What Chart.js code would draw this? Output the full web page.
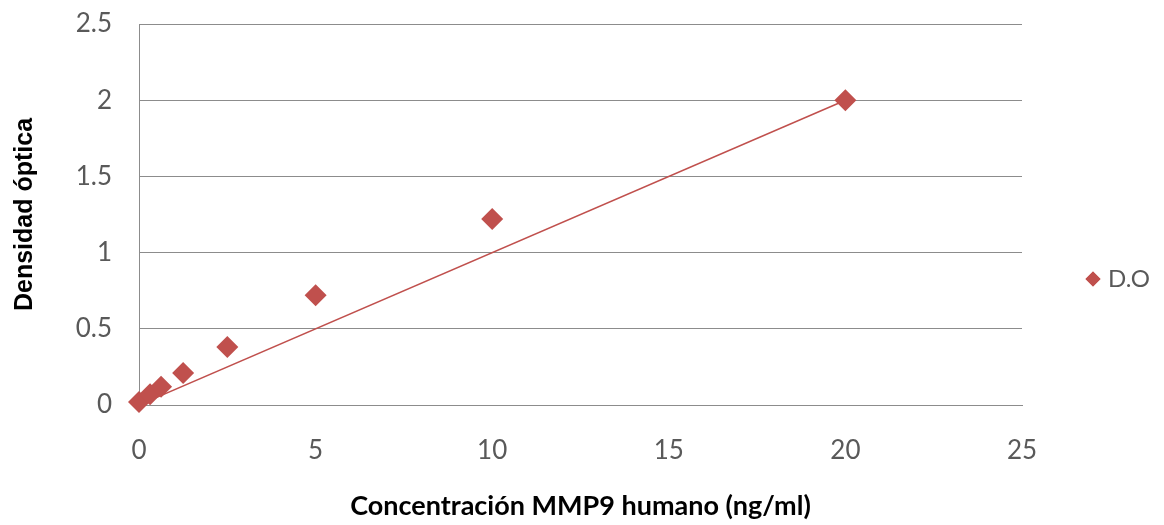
<!DOCTYPE html>
<html>
<head>
<meta charset="utf-8">
<script src="https://cdn.jsdelivr.net/npm/chart.js@4.4.1/dist/chart.umd.min.js"></script>
<style>
	html, body { margin: 0; padding: 0; background: #fff; }
	#wrap { width: 1164px; height: 525px; }
</style>
</head>
<body>
<div id="wrap"><canvas id="curva"></canvas></div>
<script>
// concentraciones estándar (ng/ml) y densidad óptica medida
const concentraciones = [0, 0.3125, 0.625, 1.25, 2.5, 5, 10, 20];
const densidad = [0.02, 0.07, 0.12, 0.21, 0.38, 0.72, 1.22, 2.0];

// línea de tendencia (extremos)
const tendenciaX = [0, 20];
const tendenciaY = [0.0, 2.0];

const serieNombre = 'D.O';
const rojo = '#C0504D';
const gris = '#8C8C8C';
const textoGris = '#595959';
const fuente = 'Lato, "Open Sans", sans-serif';

// leyenda propia a la derecha del área del gráfico
const leyenda = {
	id: 'leyenda',
	afterDraw(chart) {
		const ctx = chart.ctx;
		const y = 279;
		ctx.save();
		Chart.helpers.drawPoint(ctx, { pointStyle: 'rectRot', radius: 7.5, borderWidth: 0 }, 1093, y);
		ctx.fillStyle = rojo;
		ctx.fill();
		ctx.fillStyle = textoGris;
		ctx.font = '24px ' + fuente;
		ctx.textBaseline = 'middle';
		ctx.fillText(serieNombre, 1108, y);
		ctx.restore();
	}
};

var ctx = document.getElementById('curva').getContext('2d');
var myChart = new Chart(ctx, {
	type: 'scatter',
	data: {
		datasets: [{
			label: serieNombre,
			data: concentraciones.map((x, i) => ({ x: x, y: densidad[i] })),
			pointStyle: 'rectRot',
			pointRadius: 11,
			pointHoverRadius: 11,
			backgroundColor: rojo,
			borderColor: rojo,
			borderWidth: 0,
			clip: false,
			order: 1
		}, {
			label: 'tendencia',
			type: 'line',
			data: tendenciaX.map((x, i) => ({ x: x, y: tendenciaY[i] })),
			borderColor: rojo,
			borderWidth: 1.5,
			pointRadius: 0,
			fill: false,
			order: 2
		}]
	},
	plugins: [leyenda],
	options: {
		responsive: true,
		maintainAspectRatio: false,
		animation: false,
		layout: { padding: { top: 24, right: 142, bottom: 0, left: 0 } },
		plugins: {
			legend: { display: false },
			tooltip: { enabled: false }
		},
		scales: {
			x: {
				type: 'linear',
				min: 0,
				max: 25,
				ticks: { stepSize: 5, padding: 30, color: textoGris, font: { family: fuente, size: 26 } },
				grid: { display: false, drawTicks: false },
				border: { display: true, color: gris, width: 1 },
				title: {
					display: true,
					text: 'Concentración MMP9 humano (ng/ml)',
					color: '#000',
					font: { family: fuente, size: 27, weight: 'bold' },
					padding: { top: 0, bottom: 3 }
				},
				afterFit(scale) {
					scale.height = 120;
					scale.paddingLeft = 0;
					scale.paddingRight = 0;
				}
			},
			y: {
				min: 0,
				max: 2.5,
				ticks: {
					stepSize: 0.5,
					padding: 27,
					color: textoGris,
					font: { family: fuente, size: 26 },
					callback: (v) => String(v)
				},
				grid: { color: gris, lineWidth: 1, drawTicks: false },
				border: { display: true, color: gris, width: 1 },
				title: {
					display: true,
					text: 'Densidad óptica',
					color: '#000',
					font: { family: '"Liberation Sans", Arial, sans-serif', size: 25, weight: 'bold' },
					padding: { top: 10, bottom: 0 }
				},
				afterFit(scale) {
					scale.width = 139;
					scale.paddingTop = 0;
					scale.paddingBottom = 0;
				}
			}
		}
	}
});
</script>
</body>
</html>
